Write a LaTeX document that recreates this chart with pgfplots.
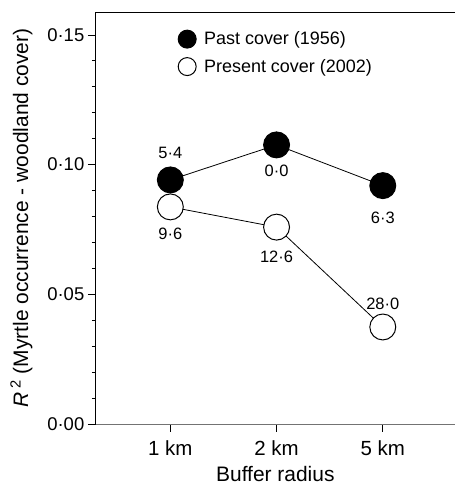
\documentclass[border=0pt]{standalone}
\usepackage{fontspec}
\setmainfont{Liberation Sans}
\usepackage{pgfplots}
\pgfplotsset{compat=1.18}

\begin{document}
\begin{tikzpicture}
\begin{axis}[
  name=ax,
  width=360bp, height=413bp, scale only axis,
  xmin=0.298, xmax=3.679, ymin=0, ymax=0.15885,
  axis x line*=bottom, axis y line*=left,
  x axis line style={-, black!55, line width=0.9bp},
  y axis line style={-, black, line width=0.9bp},
  xtick={1,2,3}, xticklabels={1 km,2 km,5 km},
  ytick={0,0.05,0.1,0.15}, yticklabels={0·00,0·05,0·10,0·15},
  minor y tick num=4,
  tick align=outside,
  major tick length=8bp, minor tick length=4bp,
  tick style={black, line width=0.8bp},
  x tick label style={font=\fontsize{20.5bp}{22bp}\selectfont, yshift=-5bp},
  y tick label style={font=\fontsize{18.5bp}{20bp}\selectfont},
  xlabel={Buffer radius},
  ylabel={\textit{R}\,\textsuperscript{2} (Myrtle occurrence - woodland cover)},
  label style={font=\fontsize{21bp}{23bp}\selectfont},
  xlabel shift=4bp, ylabel shift=8bp,
  legend style={draw=none, fill=none, inner sep=0pt, at={(0.229,0.957)}, anchor=north west,
    font=\fontsize{18bp}{20bp}\selectfont, row sep=9bp, column sep=6bp},
  legend cell align=left,
  clip=false,
]
% top frame line (no right spine in the original)
\draw[black, line width=0.9bp] (rel axis cs:0,1) -- (rel axis cs:1,1);

\addlegendimage{legend image code/.code={\draw[only marks, mark=*, mark size=9bp, mark options={fill=black, draw=black, line width=1bp}] plot coordinates {(9bp,0bp)};}}
\addlegendentry{Past cover (1956)}
\addlegendimage{legend image code/.code={\draw[only marks, mark=*, mark size=9bp, mark options={fill=white, draw=black, line width=1bp}] plot coordinates {(9bp,0bp)};}}
\addlegendentry{Present cover (2002)}

% past cover (1956)
\addplot[black, line width=0.8bp, mark=*, mark size=13bp,
  mark options={fill=black, line width=1bp}, forget plot]
  coordinates {(1,0.0941) (2,0.1076) (3,0.0919)};
% present cover (2002)
\addplot[black, line width=0.8bp, mark=*, mark size=13bp,
  mark options={fill=white, line width=1bp}, forget plot]
  coordinates {(1,0.0837) (2,0.0759) (3,0.0374)};

\begin{scope}[every node/.style={inner sep=0pt, font=\fontsize{16.5bp}{18bp}\selectfont}]
\node at (axis cs:1,0.0941) [yshift=27bp] {5·4};
\node at (axis cs:2,0.1076) [yshift=-25.5bp] {0·0};
\node at (axis cs:3,0.0919) [yshift=-32bp] {6·3};
\node at (axis cs:1,0.0837) [yshift=-27.5bp] {9·6};
\node at (axis cs:2,0.0759) [yshift=-29.5bp] {12·6};
\node at (axis cs:3,0.0374) [yshift=23.5bp] {28·0};
\end{scope}
\end{axis}
\path[use as bounding box] ([shift={(-96bp,-60bp)}]ax.south west) rectangle ([shift={(0bp,12bp)}]ax.north east);
\end{tikzpicture}
\end{document}
